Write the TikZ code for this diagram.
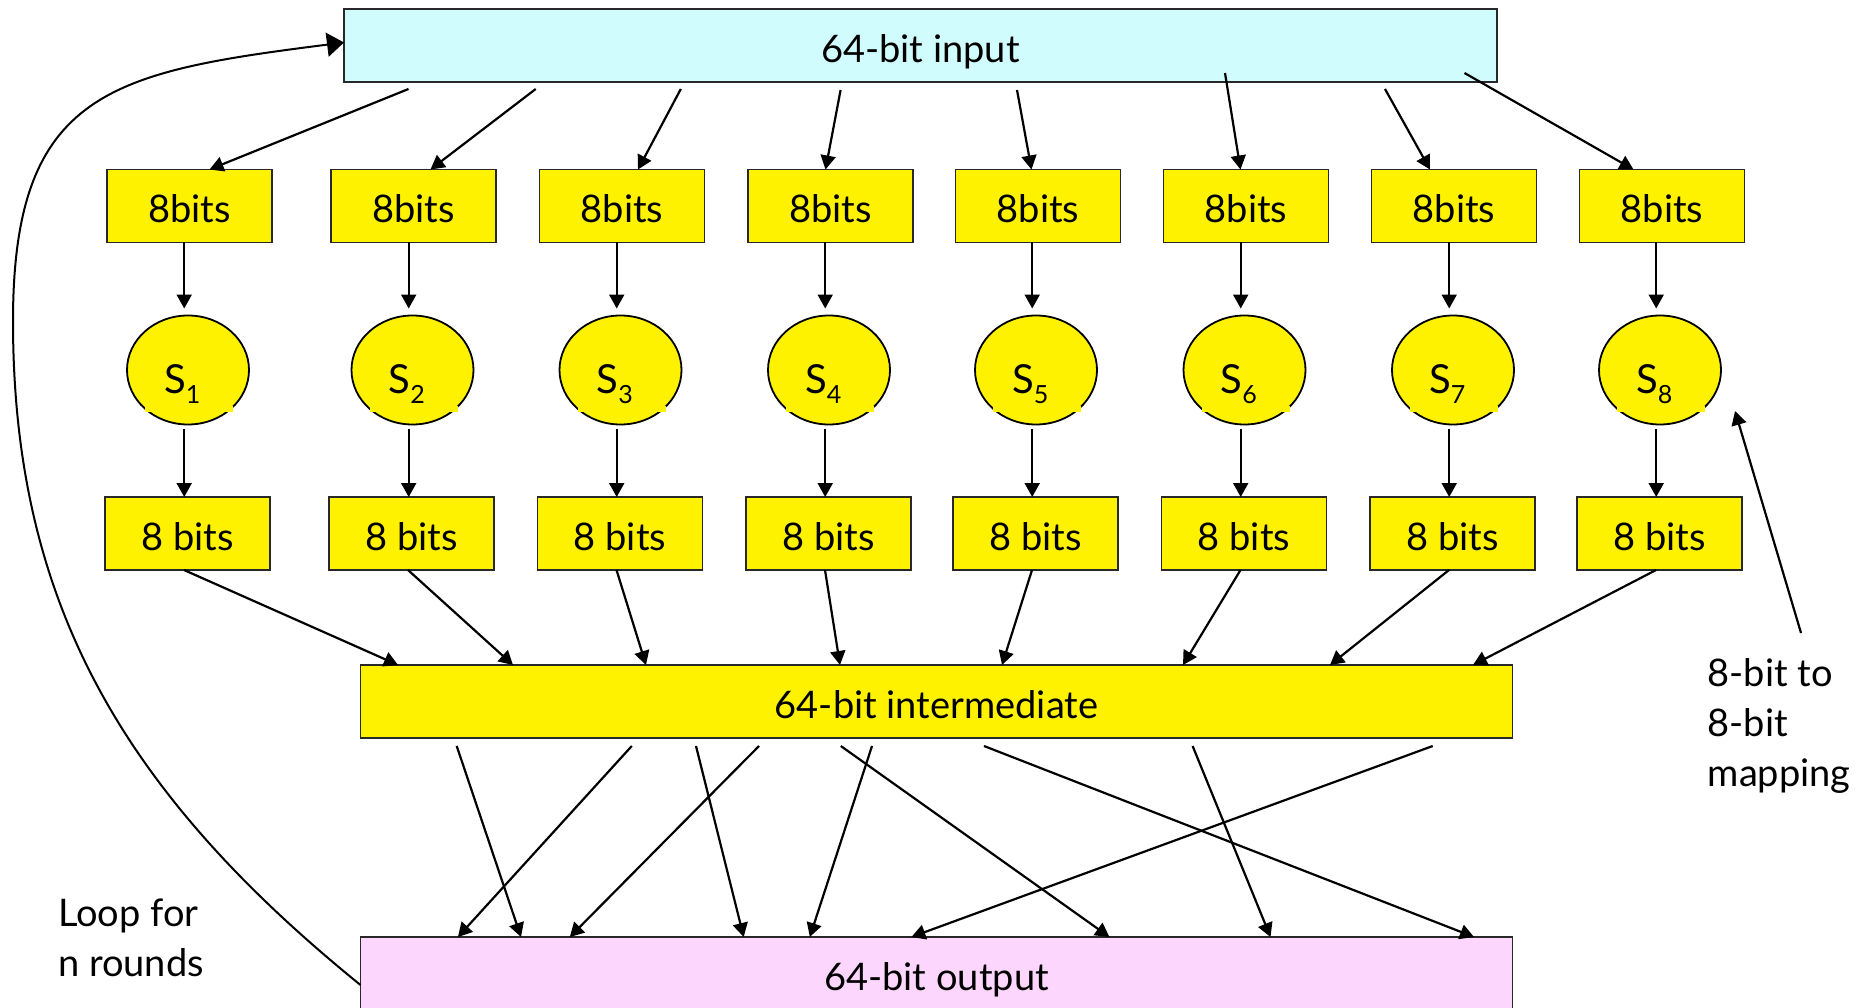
\documentclass[tikz,border=0pt]{standalone}
\usepackage{fontspec}
\setmainfont{Lato}
\usetikzlibrary{arrows.meta,shapes.geometric}
\definecolor{inputfill}{RGB}{208,252,253}
\definecolor{outfill}{RGB}{252,214,253}
\definecolor{boxline}{RGB}{40,40,40}

\begin{document}
\begin{tikzpicture}[x=1pt,y=-1pt,
  lbl/.style={font=\fontsize{38}{50}\selectfont, inner sep=0pt, anchor=base west},
  box/.style={draw=boxline, line width=1.8pt, inner sep=0pt, outer sep=0pt,
    text height=34pt, text depth=0pt, font=\fontsize{38}{50}\selectfont},
  wide/.style={box, minimum width=1152pt, minimum height=73pt},
  byte/.style={box, fill=yellow, minimum width=165pt, minimum height=73pt},
  sbox/.style={ellipse, draw=black, line width=1.8pt, fill=yellow,
    minimum width=122pt, minimum height=109pt, inner sep=0pt, outer sep=0pt},
  arr/.style={line width=2.2pt, -{Triangle[length=14pt,width=15pt]}},
  looparr/.style={line width=2pt, -{Triangle[length=17pt,width=24pt]}},
]
\useasboundingbox (0,0) rectangle (1867,1008);
\clip (0,0) rectangle (1867,1008);
\fill[white] (0,0) rectangle (1867,1008);

% main blocks
\node[wide, fill=inputfill, minimum width=1153pt] (in) at (920.5,45.5) {64-bit input};
\node[wide, fill=yellow] (mid) at (936.5,701.5) {64-bit intermediate};
\node[wide, fill=outfill] (out) at (936.5,973.5) {64-bit output};

% 8-bit slices before and after the S-boxes
\foreach \i/\x in {1/189.5,2/413.5,3/622,4/830.5,5/1038,6/1246,7/1454,8/1662}
  \node[byte] (t\i) at (\x,206) {8bits};
\foreach \i/\x in {1/187.5,2/411.5,3/620,4/828.5,5/1035.5,6/1244,7/1452.5,8/1659.5}
  \node[byte] (b\i) at (\x,533.5) {8 bits};

% S-boxes
\foreach \i/\x in {1/188,2/412.5,3/620.5,4/829,5/1036,6/1244.5,7/1453,8/1660} {
  \node[sbox] (e\i) at (\x,370) {};
  \fill[yellow] (\x-43,406) rectangle (\x+45,412);
  \node[lbl, font=\fontsize{40}{50}\selectfont] (l\i) at (\x-24,393)
    {S\raisebox{-10pt}{\fontsize{25}{25}\selectfont\i}};
}

% input splitting
\coordinate (a1) at (408.5,89);
\coordinate (a2) at (535.7,89);
\coordinate (a3) at (680.8,89);
\coordinate (a4) at (840.6,90);
\coordinate (a5) at (1017,90);
\coordinate (a6) at (1225,73);
\coordinate (a7) at (1385,89);
\coordinate (a8) at (1464.5,73);
\foreach \i/\dx in {1/20,2/17,3/16,4/-5,5/-6.5,6/-5.5,7/-24,8/-28.5}
  \draw[arr] (a\i) -- ([xshift=\dx pt]t\i.north);

% through the S-boxes
\foreach \i in {1,...,8} {
  \draw[arr] ([xshift=-3.8pt]e\i.north |- t\i.south) -- ([xshift=-3.8pt,yshift=7pt]e\i.north);
  \draw[arr] ([xshift=-3.8pt,yshift=-4pt]e\i.south) -- ([xshift=-3.8pt]e\i.south |- b\i.north);
}

% S-box outputs into the intermediate block
\foreach \i/\dx in {1/37.5,2/152.5,3/285.5,4/479.5,5/641.5,6/822.5,7/969.5,8/1112.5}
  \draw[arr] ([xshift=-3.5pt]b\i.south) -- ([xshift=\dx pt]mid.north west);

% permutation
\foreach \sx/\ex in {96.2/160.5,271.3/97.4,335.5/383.2,398.5/209.3,480.3/748.9,
                     511.5/449.3,623.5/1113.5,832.1/910,1072.2/550.9}
  \draw[arr] ([xshift=\sx pt,yshift=-8pt]mid.south west) -- ([xshift=\ex pt]out.north west);

% round loop
\draw[looparr] ([yshift=-11.5pt]out.west) .. controls (120,790) and (13,600) .. (13,321)
  .. controls (13,91) and (112,72) .. ([yshift=3pt]in.west);

% annotations
\coordinate (mapfrom) at (1801,633);
\coordinate (maptip) at (1735,411);
\draw[arr] (mapfrom) -- (maptip);
\node[lbl] (map1) at (1707.5,686) {8-bit to};
\node[lbl] (map2) at (1707.5,736) {8-bit};
\node[lbl] (map3) at (1707.5,786) {mapping};
\node[lbl] (loop1) at (58,926.7) {Loop for};
\node[lbl] (loop2) at (58,976.7) {n rounds};
\end{tikzpicture}
\end{document}
